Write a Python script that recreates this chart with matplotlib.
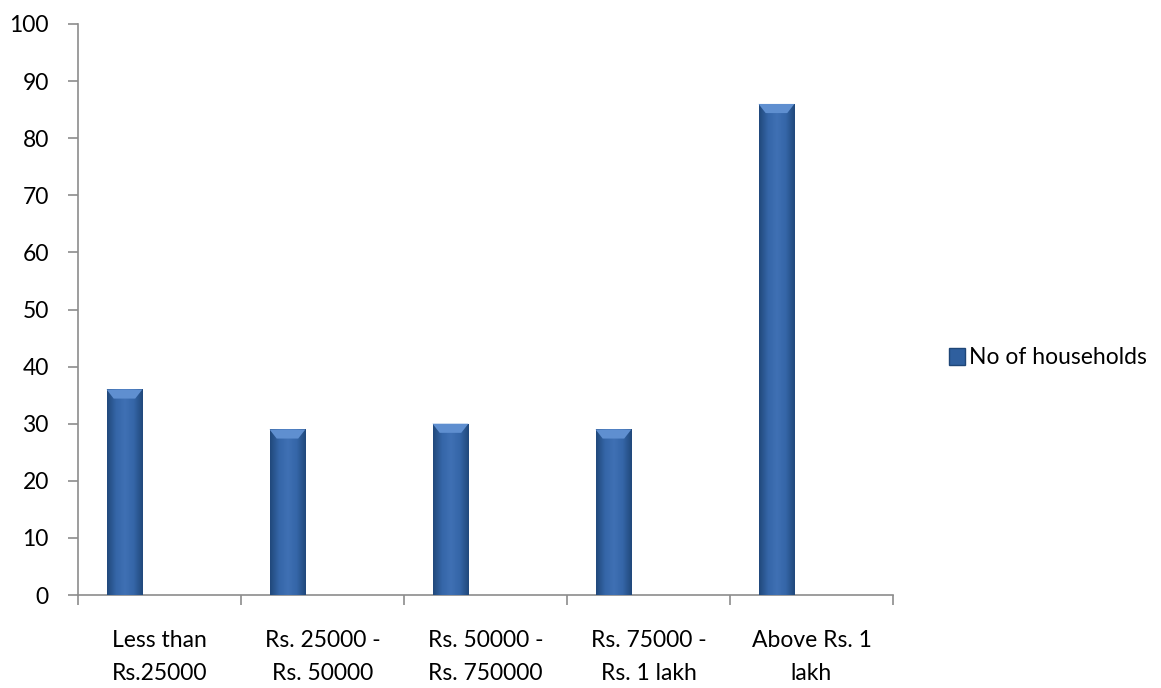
import numpy as np
import matplotlib
matplotlib.use("Agg")
import matplotlib.pyplot as plt
from matplotlib.colors import LinearSegmentedColormap
from matplotlib.patches import Patch

categories = [
    "Less than\nRs.25000",
    "Rs. 25000 -\nRs. 50000",
    "Rs. 50000 -\nRs. 750000",
    "Rs. 75000 -\nRs. 1 lakh",
    "Above Rs. 1\nlakh",
]
households = [36, 29, 30, 29, 86]
series_name = "No of households"

plt.rcParams["font.family"] = ["Lato", "DejaVu Sans"]

fig = plt.figure(figsize=(11.61, 6.88), dpi=100)
ax = fig.add_axes([78 / 1161, 93 / 688, 815 / 1161, 571 / 688])

x = np.arange(len(categories))
bar_w = 0.22
offset = -0.215

# shaded blue for the cylinder-like bars
shade = LinearSegmentedColormap.from_list(
    "barshade", ["#21497c", "#3566a8", "#3f70b4", "#3566a8", "#21497c"]
)
grad = np.linspace(0, 1, 64).reshape(1, -1)

bars = ax.bar(x + offset, households, width=bar_w, color="#3566a8", zorder=2)
for b in bars:
    x0, w, h = b.get_x(), b.get_width(), b.get_height()
    im = ax.imshow(grad, cmap=shade, aspect="auto",
                   extent=[x0, x0 + w, 0, h], zorder=3)
    im.set_clip_path(b)
    # bevelled top edge
    bev = 1.6
    ax.fill([x0, x0 + w, x0 + w * 0.8, x0 + w * 0.2],
            [h, h, h - bev, h - bev], color="#5f8fd0", zorder=4, lw=0)

ax.set_xlim(-0.5, len(categories) - 0.5)
ax.set_ylim(0, 100)
ax.set_yticks(np.arange(0, 101, 10))

ax.set_xticks(x)
ax.set_xticklabels(categories, linespacing=1.75)
ax.set_xticks(np.arange(-0.5, len(categories), 1), minor=True)
ax.tick_params(axis="x", which="major", length=0, pad=25, labelsize=16.5)
ax.tick_params(axis="x", which="minor", length=7, width=1.2, color="#8c8c8c")
ax.tick_params(axis="y", length=7, width=1.2, color="#8c8c8c", labelsize=16.5, pad=14)

for side in ["top", "right"]:
    ax.spines[side].set_visible(False)
for side in ["left", "bottom"]:
    ax.spines[side].set_color("#8c8c8c")
    ax.spines[side].set_linewidth(1.2)

handle = Patch(facecolor="#2f5f9e", edgecolor="#1f4677")
fig.legend([handle], [series_name], loc="center left",
           bbox_to_anchor=(928 / 1161, 1 - 358 / 688), frameon=False,
           fontsize=16.5, handlelength=0.7, handleheight=0.7, handletextpad=0.2)

fig.savefig("out.png", dpi=100)
